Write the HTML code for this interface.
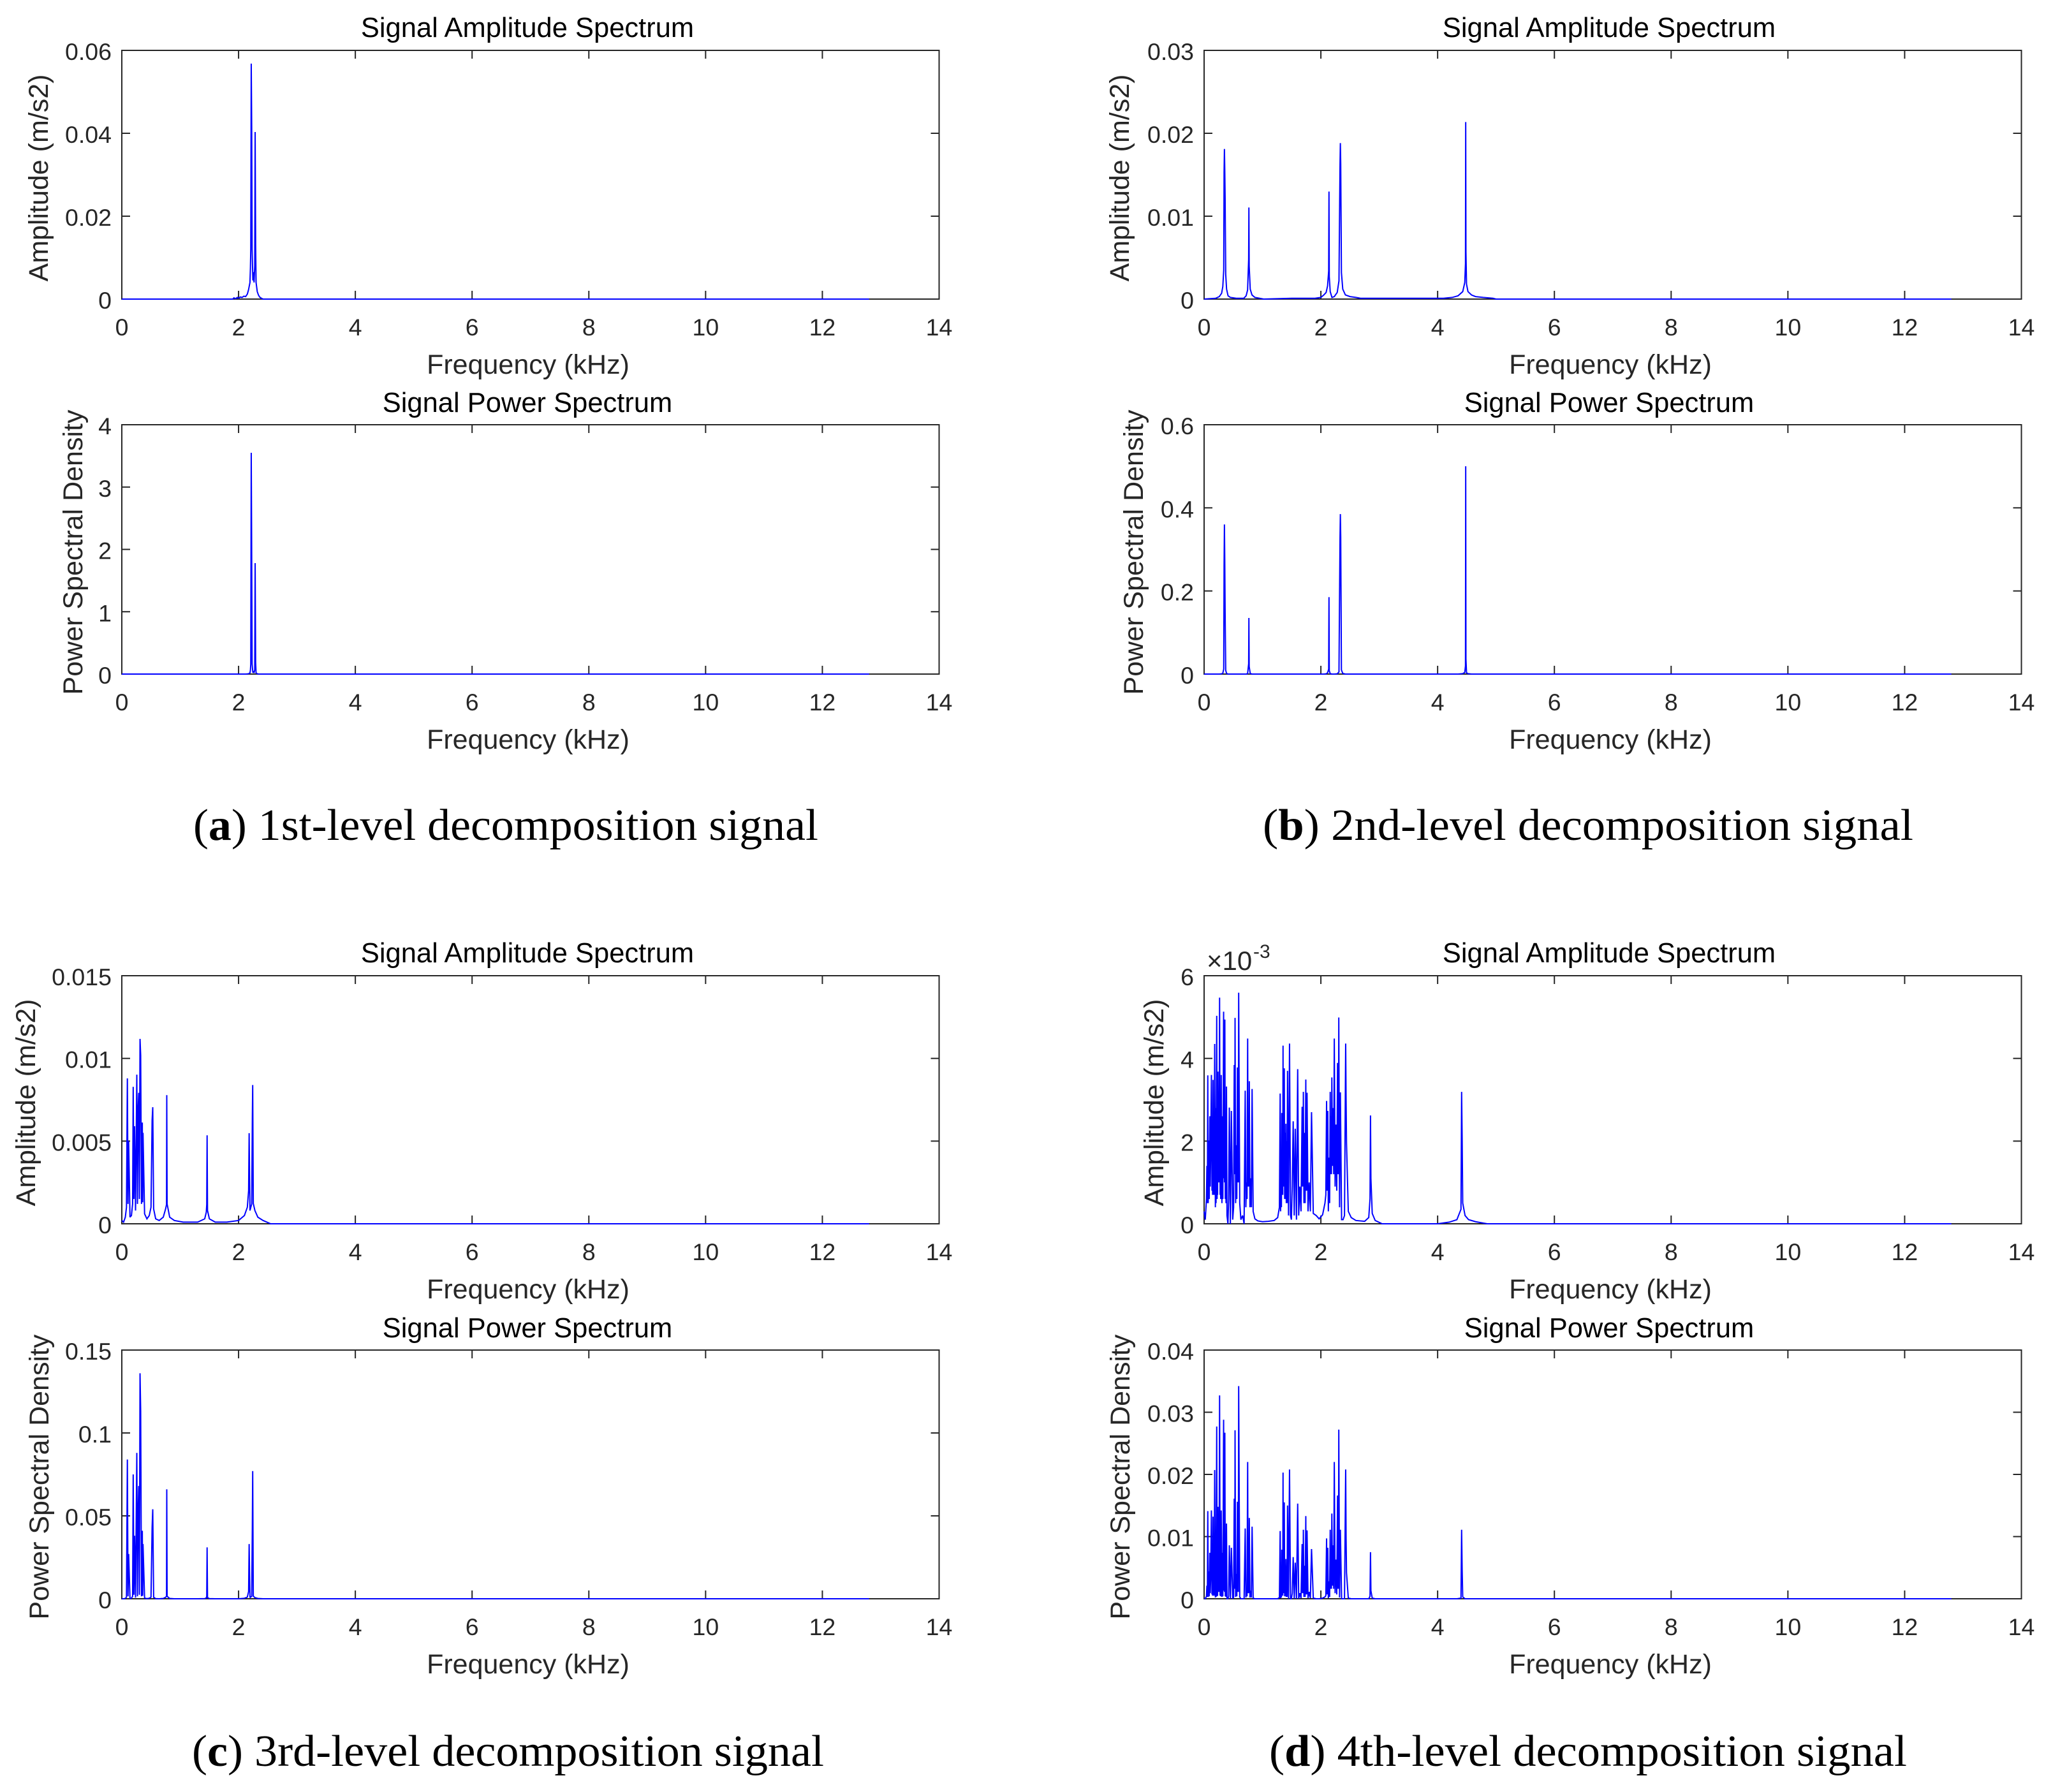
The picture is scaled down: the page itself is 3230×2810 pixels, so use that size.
<!DOCTYPE html>
<html lang="en">
<head>
<meta charset="utf-8">
<title>Signal Spectra of Decomposition Levels</title>
<style>
html,body{margin:0;padding:0;background:#fff;}
svg{display:block;}
text{font-family:"Liberation Sans",sans-serif;}
.title{font-size:43.5px;fill:#000;text-anchor:middle;}
.label{font-size:43px;fill:#262626;text-anchor:middle;}
.tick{font-size:37.5px;fill:#262626;}
.caption{font-family:"Liberation Serif",serif;font-size:70px;fill:#000;}
.caption tspan.b{font-weight:bold;}
</style>
</head>
<body>
<svg id="figure" xmlns="http://www.w3.org/2000/svg" width="3230" height="2810" viewBox="0 0 3230 2810">
<rect width="3230" height="2810" fill="#fff"/>

<g id="panel-a-amp">
<text class="title" x="827" y="58">Signal Amplitude Spectrum</text>
<text class="label" x="828" y="586">Frequency (kHz)</text>
<text class="label" transform="translate(75 279) rotate(-90)">Amplitude (m/s2)</text>
</g>
<g id="panel-a-pow">
<text class="title" x="827" y="646">Signal Power Spectrum</text>
<text class="label" x="828" y="1174">Frequency (kHz)</text>
<text class="label" transform="translate(129 866) rotate(-90)">Power Spectral Density</text>
</g>
<text class="caption" x="303" y="1317" textLength="980" lengthAdjust="spacingAndGlyphs">(<tspan class="b">a</tspan>) 1st-level decomposition signal</text>

<g id="panel-b-amp">
<text class="title" x="2523" y="58">Signal Amplitude Spectrum</text>
<text class="label" x="2525" y="586">Frequency (kHz)</text>
<text class="label" transform="translate(1770 279) rotate(-90)">Amplitude (m/s2)</text>
</g>
<g id="panel-b-pow">
<text class="title" x="2523" y="646">Signal Power Spectrum</text>
<text class="label" x="2525" y="1174">Frequency (kHz)</text>
<text class="label" transform="translate(1792 866) rotate(-90)">Power Spectral Density</text>
</g>
<text class="caption" x="1980" y="1317" textLength="1020" lengthAdjust="spacingAndGlyphs">(<tspan class="b">b</tspan>) 2nd-level decomposition signal</text>

<g id="panel-c-amp">
<text class="title" x="827" y="1509">Signal Amplitude Spectrum</text>
<text class="label" x="828" y="2036">Frequency (kHz)</text>
<text class="label" transform="translate(55 1729) rotate(-90)">Amplitude (m/s2)</text>
</g>
<g id="panel-c-pow">
<text class="title" x="827" y="2097">Signal Power Spectrum</text>
<text class="label" x="828" y="2624">Frequency (kHz)</text>
<text class="label" transform="translate(76 2316) rotate(-90)">Power Spectral Density</text>
</g>
<text class="caption" x="301" y="2769" textLength="991" lengthAdjust="spacingAndGlyphs">(<tspan class="b">c</tspan>) 3rd-level decomposition signal</text>

<g id="panel-d-amp">
<text class="title" x="2523" y="1509">Signal Amplitude Spectrum</text>
<text class="label" x="2525" y="2036">Frequency (kHz)</text>
<text class="label" transform="translate(1824 1729) rotate(-90)">Amplitude (m/s2)</text>
<text class="tick" x="1892" y="1521" style="font-size:42px">×10</text>
<text class="tick" x="1965" y="1502" style="font-size:30px">-3</text>
</g>
<g id="panel-d-pow">
<text class="title" x="2523" y="2097">Signal Power Spectrum</text>
<text class="label" x="2525" y="2624">Frequency (kHz)</text>
<text class="label" transform="translate(1771 2316) rotate(-90)">Power Spectral Density</text>
</g>
<text class="caption" x="1990" y="2769" textLength="1000" lengthAdjust="spacingAndGlyphs">(<tspan class="b">d</tspan>) 4th-level decomposition signal</text>
</svg>

<script>
var xTicks = [0,2,4,6,8,10,12,14];
var xTickLabels = ["0","2","4","6","8","10","12","14"];

var aAmpTicks = [0,0.02,0.04,0.06];
var aAmpTickLabels = ["0","0.02","0.04","0.06"];
var aPowTicks = [0,1,2,3,4];
var aPowTickLabels = ["0","1","2","3","4"];
var bAmpTicks = [0,0.01,0.02,0.03];
var bAmpTickLabels = ["0","0.01","0.02","0.03"];
var bPowTicks = [0,0.2,0.4,0.6];
var bPowTickLabels = ["0","0.2","0.4","0.6"];
var cAmpTicks = [0,0.005,0.01,0.015];
var cAmpTickLabels = ["0","0.005","0.01","0.015"];
var cPowTicks = [0,0.05,0.1,0.15];
var cPowTickLabels = ["0","0.05","0.1","0.15"];
var dAmpTicks = [0,2,4,6];
var dAmpTickLabels = ["0","2","4","6"];
var dPowTicks = [0,0.01,0.02,0.03,0.04];
var dPowTickLabels = ["0","0.01","0.02","0.03","0.04"];

var aFreq = [0,1.9,1.92,1.95,1.98,2.0,2.03,2.06,2.09,2.12,
2.15,2.17,2.195,2.203,2.209,2.217,2.225,2.232,2.245,2.255,
2.265,2.277,2.284,2.292,2.3,2.32,2.34,2.36,2.39,2.42,
12.8];
var aAmp = [0,0,.0003,.0001,.0004,.0002,.0005,.0004,.0007,.0006,
.0012,.0022,.004,.0075,.012,.0568,.0408,.012,.0045,.0065,
.004,.008,.0403,.0132,.004,.0018,.001,.0005,.0002,0,
0];
var aPow = [0,0,0,0,0,0,0,0,0,0,
.002,.005,.018,.062,.16,3.55,1.83,.16,.022,.046,
.018,.07,1.78,.19,.018,.004,.001,0,0,0,
0];

var bFreq = [0,.2,.26,.3,.32,.336,.342,.348,.354,.36,
.37,.385,.41,.45,.55,.68,.72,.745,.763,.767,
.772,.79,.82,.87,.95,1.02,1.5,1.9,2.0,2.05,
2.09,2.115,2.134,2.139,2.144,2.16,2.19,2.23,2.28,2.31,
2.328,2.334,2.34,2.352,2.375,2.42,2.5,2.6,2.68,3.5,
4.1,4.25,4.35,4.43,4.465,4.477,4.481,4.485,4.495,4.52,
4.58,4.65,4.78,4.95,5.0,12.8];
var bAmp = [0,.0001,.0003,.0007,.0015,.0035,.0153,.0181,.0155,.0122,
.003,.0012,.0004,.0002,.0001,.0001,.0004,.0011,.0048,.01105,
.004,.0012,.0005,.0002,.0001,0,.0001,.0001,.0002,.0005,
.0008,.0016,.0034,.01297,.0027,.0009,.0002,.0003,.0008,.0022,
.0163,.01882,.0163,.0032,.0012,.0005,.0003,.0002,.0001,.0001,
.0001,.0002,.0004,.0009,.002,.0043,.02136,.0057,.0018,.0009,
.0005,.0003,.0002,.0001,0,0];
var bPow = [0,0,0,.0005,.002,.012,.26,.36,.27,.15,
.009,.0015,0,0,0,0,0,.001,.025,.135,
.018,.0015,0,0,0,0,0,0,0,0,
.0006,.003,.012,.185,.008,.001,0,0,.0006,.005,
.33,.385,.33,.01,.0015,0,0,0,0,0,
0,0,0,.001,.004,.02,.5,.036,.003,.001,
0,0,0,0,0,0];

var cFreq = [0,.03,.06,.08,.095,.106,.117,.14,.165,.185,
.195,.207,.218,.235,.257,.268,.279,.29,.301,.312,
.323,.337,.351,.357,.363,.39,.43,.47,.5,.519,
.53,.545,.58,.64,.71,.75,.766,.77,.776,.82,
.9,1.05,1.3,1.42,1.447,1.455,1.461,1.468,1.5,1.6,
1.8,2.0,2.1,2.15,2.172,2.181,2.195,2.225,2.236,2.242,
2.252,2.28,2.33,2.42,2.55,12.8];
var cAmp = [.0002,.0001,.0004,.001,.00879,.0012,.005,.0004,.0005,.0012,
.00828,.0015,.0059,.0008,.00902,.0012,.0069,.00792,.0015,.01118,
.01018,.0012,.00612,.0013,.0055,.0006,.0003,.0005,.001,.00625,
.00705,.0009,.0003,.0002,.0004,.0009,.00117,.00778,.0012,.0004,
.0002,.0001,.0001,.0003,.0007,.00117,.00535,.0008,.0003,.0001,
.0001,.0002,.0005,.001,.002,.00548,.0008,.0012,.00638,.00839,
.00123,.0008,.0004,.0002,0,0];
var cPow = [0,0,.0002,.001,.084,.0015,.027,.0002,.0003,.0015,
.075,.0024,.038,.0007,.088,.0015,.052,.068,.0024,.136,
.113,.0015,.041,.0018,.033,.0004,.0001,.0003,.001,.043,
.054,.0009,.0001,0,.0002,.0009,.0015,.066,.0015,.0002,
0,0,0,.0001,.0005,.0015,.031,.0007,.0001,0,
0,0,.0003,.001,.0044,.033,.0007,.0015,.044,.077,
.0016,.0007,.0002,0,0,0];

var dFreq = [0,.02,.04,.048,.056,.063,.07,.08,.088,.098,
.105,.113,.125,.135,.14,.146,.153,.162,.167,.173,
.181,.193,.198,.204,.216,.222,.226,.231,.237,.245,
.25,.256,.265,.274,.279,.284,.293,.305,.313,.321,
.334,.34,.345,.35,.355,.363,.369,.375,.383,.392,
.408,.42,.432,.45,.467,.49,.505,.516,.52,.523,
.526,.53,.54,.55,.56,.571,.576,.581,.586,.592,
.61,.63,.66,.685,.704,.715,.725,.735,.746,.753,
.76,.767,.774,.785,.798,.81,.822,.84,.87,.92,
1,1.1,1.2,1.26,1.29,1.303,1.31,1.317,1.324,1.331,
1.337,1.342,1.347,1.352,1.357,1.362,1.367,1.373,1.38,1.387,
1.394,1.401,1.408,1.415,1.422,1.429,1.446,1.463,1.48,1.495,
1.51,1.526,1.544,1.561,1.582,1.603,1.62,1.64,1.66,1.679,
1.685,1.69,1.695,1.7,1.71,1.721,1.73,1.742,1.747,1.752,
1.757,1.763,1.78,1.8,1.82,1.84,1.87,1.92,1.97,2.03,
2.07,2.085,2.098,2.103,2.108,2.113,2.118,2.128,2.139,2.15,
2.16,2.167,2.174,2.181,2.188,2.198,2.209,2.22,2.23,2.244,
2.258,2.272,2.286,2.291,2.296,2.301,2.307,2.32,2.334,2.355,
2.38,2.405,2.425,2.432,2.439,2.47,2.52,2.6,2.75,2.82,
2.842,2.85,2.857,2.88,2.93,3.05,4,4.2,4.33,4.4,
4.411,4.42,4.43,4.47,4.53,4.65,4.85,12.8];
var dAmp = [.3,.1,.6,1.4,.5,3.59,.5,2,.6,2.6,
.9,1.8,3.6,.8,2.4,.7,3.48,.7,2.6,.7,
4.35,.4,2.8,.5,5.03,.6,2.5,.7,3.68,1,
2.9,1,5.47,.7,2.7,.6,3.6,.5,2.6,.6,
5.13,1.1,2.4,1,4.94,.6,2,.5,3.32,.2,
0,.6,2.81,0,2.73,.1,.4,3.84,1.2,2.4,
1.2,4.98,.5,1.9,.6,3.78,1,2.2,1,5.59,
.5,.1,.2,0,3.22,.4,1,.6,4.48,.9,
2.2,.9,3.45,.4,1.1,.4,3.26,.3,.12,.07,
.05,.06,.08,.15,.4,3.15,.3,1.5,.4,2.68,
.7,2,.7,4.31,.9,2.4,.9,3.76,.6,2.2,
.6,2.42,.5,2,.5,3.7,.2,4.36,.2,.1,
.9,2.48,.2,2.3,.1,3.74,.2,.9,.3,2.83,
.9,2,.9,3.19,.5,2.2,.5,3.49,.8,2,
.8,3.17,.3,1,.3,2.7,.25,.2,.12,.22,
.5,.7,2.97,.8,2,.8,2.73,.3,1.6,.5,
3.19,1.2,2.6,1.2,3.54,1.4,2.8,1.2,4.48,.9,
2.4,.8,3.89,1.2,2.8,1.2,4.99,.4,3.18,.1,
.1,.2,4.36,3,1.96,.3,.15,.08,.06,.15,
.6,2.62,1.1,.25,.08,0,0,.04,.1,.35,
3.19,2.08,.5,.2,.1,.05,0,0];
var dPow = [.0001,0,.0004,.0021,.0003,.0141,.0003,.0044,.0004,.0074,
.0009,.0035,.0142,.0007,.0063,.0005,.0132,.0005,.0074,.0005,
.0207,.0002,.0086,.0003,.0277,.0004,.0068,.0005,.0148,.0011,
.0092,.0011,.0327,.0005,.008,.0004,.0142,.0003,.0074,.0004,
.0288,.0013,.0063,.0011,.0267,.0004,.0044,.0003,.0121,0,
0,.0004,.0086,0,.0082,0,.0002,.0161,.0016,.0063,
.0016,.0271,.0003,.004,.0004,.0156,.0011,.0053,.0011,.0342,
.0003,0,0,0,.0113,.0002,.0011,.0004,.022,.0009,
.0053,.0009,.013,.0002,.0013,.0002,.0116,.0001,0,0,
0,0,0,0,.0002,.0109,.0001,.0025,.0002,.0079,
.0005,.0044,.0005,.0203,.0009,.0063,.0009,.0155,.0004,.0053,
.0004,.0064,.0003,.0044,.0003,.015,0,.0208,0,0,
.0009,.0067,0,.0058,0,.0153,0,.0009,.0001,.0088,
.0009,.0044,.0009,.0111,.0003,.0053,.0003,.0133,.0007,.0044,
.0007,.011,.0001,.0011,.0001,.008,.0001,0,0,.0001,
.0003,.0005,.0097,.0007,.0044,.0007,.0082,.0001,.0028,.0003,
.0111,.0016,.0074,.0016,.0137,.0021,.0086,.0016,.022,.0009,
.0063,.0007,.0166,.0016,.0086,.0016,.0272,.0002,.0111,0,
0,0,.0208,.0098,.0042,.0001,0,0,0,0,
.0004,.0075,.0013,.0001,0,0,0,0,0,.0001,
.0111,.0047,.0003,0,0,0,0,0];

var SVGNS = "http://www.w3.org/2000/svg";
var AXIS_COLOR = "#262626";
var TICK_LEN = 13;
var X_MAX = 14;

function makeXScale(left, width) {
  return function (v) { return left + v / X_MAX * width; };
}
function makeYScale(top, height, yMax) {
  return function (v) { return top + height - v / yMax * height; };
}
function addLine(parent, x1, y1, x2, y2) {
  var l = document.createElementNS(SVGNS, "line");
  l.setAttribute("x1", x1);
  l.setAttribute("y1", y1);
  l.setAttribute("x2", x2);
  l.setAttribute("y2", y2);
  l.setAttribute("stroke", AXIS_COLOR);
  l.setAttribute("stroke-width", "2");
  parent.appendChild(l);
  return l;
}
function addTickText(parent, x, y, anchor, str) {
  var t = document.createElementNS(SVGNS, "text");
  t.setAttribute("class", "tick");
  t.setAttribute("x", x);
  t.setAttribute("y", y);
  t.setAttribute("text-anchor", anchor);
  t.textContent = str;
  parent.appendChild(t);
  return t;
}
function drawPanel(id, left, top, width, height, freq, vals, yMax, yTicks, yLabels) {
  var g = document.getElementById(id);
  var xs = makeXScale(left, width);
  var ys = makeYScale(top, height, yMax);

  var box = document.createElementNS(SVGNS, "rect");
  box.setAttribute("x", left);
  box.setAttribute("y", top);
  box.setAttribute("width", width);
  box.setAttribute("height", height);
  box.setAttribute("fill", "none");
  box.setAttribute("stroke", AXIS_COLOR);
  box.setAttribute("stroke-width", "2");
  
  
  g.appendChild(box);

  xTicks.forEach(function (v, i) {
    var x = xs(v);
    var a = addLine(g, x, top + height, x, top + height - TICK_LEN);
    
    
    var b = addLine(g, x, top, x, top + TICK_LEN);
    
    
    var t = addTickText(g, x, top + height + 57, "middle", xTickLabels[i]);
    
    
  });

  yTicks.forEach(function (v, i) {
    var y = ys(v);
    var a = addLine(g, left, y, left + TICK_LEN, y);
    
    
    var b = addLine(g, left + width, y, left + width - TICK_LEN, y);
    
    
    var t = addTickText(g, left - 16, y + 15, "end", yLabels[i]);
    
    
  });

  var pts = freq.map(function (f, i) {
    return xs(f).toFixed(2) + "," + ys(vals[i]).toFixed(2);
  }).join(" ");
  var line = document.createElementNS(SVGNS, "polyline");
  line.setAttribute("points", pts);
  line.setAttribute("fill", "none");
  line.setAttribute("stroke", "#0000ff");
  line.setAttribute("stroke-width", "2");
  line.setAttribute("stroke-linejoin", "miter");
  line.setAttribute("stroke-miterlimit", "2");
  
  
  g.appendChild(line);
}

var W = 1281.5;
drawPanel("panel-a-amp", 191, 79, W, 390, aFreq, aAmp, 0.06, aAmpTicks, aAmpTickLabels);
drawPanel("panel-a-pow", 191, 666, W, 391, aFreq, aPow, 4, aPowTicks, aPowTickLabels);
drawPanel("panel-b-amp", 1888, 79, W, 390, bFreq, bAmp, 0.03, bAmpTicks, bAmpTickLabels);
drawPanel("panel-b-pow", 1888, 666, W, 391, bFreq, bPow, 0.6, bPowTicks, bPowTickLabels);
drawPanel("panel-c-amp", 191, 1530, W, 389, cFreq, cAmp, 0.015, cAmpTicks, cAmpTickLabels);
drawPanel("panel-c-pow", 191, 2117, W, 390, cFreq, cPow, 0.15, cPowTicks, cPowTickLabels);
drawPanel("panel-d-amp", 1888, 1530, W, 389, dFreq, dAmp, 6, dAmpTicks, dAmpTickLabels);
drawPanel("panel-d-pow", 1888, 2117, W, 390, dFreq, dPow, 0.04, dPowTicks, dPowTickLabels);
</script>
</body>
</html>
